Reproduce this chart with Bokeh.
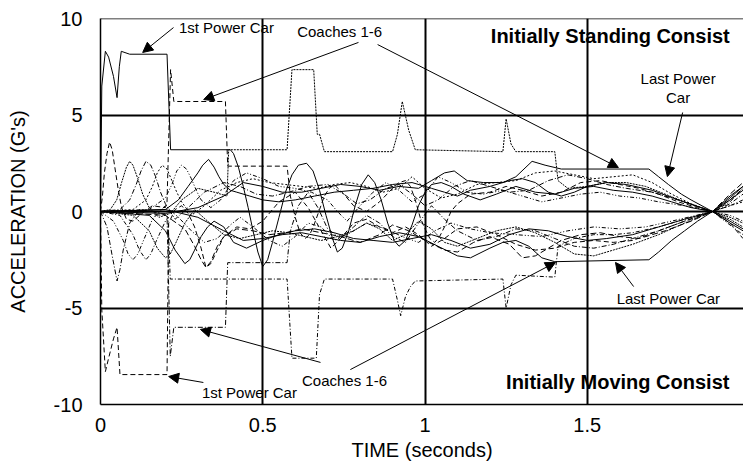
from bokeh.plotting import figure
from bokeh.models import Range1d, FixedTicker, Span, Arrow, NormalHead, Label
from bokeh.embed import file_html
from bokeh.resources import INLINE

# ---------------- data (time s, acceleration G) ----------------
# Initially standing consist
std_pc1_t = [0, 0.004, 0.015, 0.025, 0.04, 0.051, 0.058, 0.064, 0.09, 0.205, 0.216, 0.40, 0.41, 0.425, 0.44, 0.455, 0.47, 0.485, 0.50, 0.515, 0.53, 0.55, 0.57, 0.59, 0.61, 0.635, 0.655, 0.675, 0.695, 0.715, 0.73, 0.745, 0.765, 0.785, 0.805, 0.825, 0.845, 0.865, 0.885, 0.905, 0.92, 0.94, 0.96, 0.98, 1.0, 1.02, 1.05, 1.08, 1.12, 1.17, 1.22, 1.28, 1.34, 1.40, 1.46, 1.52, 1.58, 1.64, 1.70, 1.76, 1.82, 1.886, 1.93, 1.98]
std_pc1_g = [0, 6.5, 8.3, 8.0, 7.0, 5.9, 7.5, 8.3, 8.15, 8.15, 3.2, 3.2, 3.0, 2.3, 1.3, 0.2, -1.0, -2.1, -2.85, -2.5, -1.6, -0.3, 1.0, 1.9, 2.4, 2.5, 2.1, 1.1, -0.2, -1.4, -2.1, -1.9, -1.0, 0.3, 1.4, 1.9, 1.5, 0.6, -0.6, -1.5, -1.8, -1.5, -0.7, 0.3, 1.0, 1.4, 1.5, 1.3, 0.9, 0.6, 0.9, 1.3, 1.0, 0.9, 1.2, 1.3, 1.1, 1.0, 0.8, 0.5, 0.2, 0.0, -0.4, -0.9]

std_c1_t = [0, 0.006, 0.012, 0.02, 0.028, 0.036, 0.045, 0.055, 0.065, 0.08, 0.1, 0.12, 0.16, 0.2, 0.205, 0.216, 0.226, 0.385, 0.392, 0.575, 0.585, 0.6, 0.615, 0.63, 0.645, 0.66, 0.675, 0.69, 0.705, 0.72, 0.75, 0.78, 0.82, 0.86, 0.9, 0.92, 0.94, 0.955, 0.97, 0.985, 1.0, 1.015, 1.03, 1.045, 1.06, 1.08, 1.1, 1.14, 1.2, 1.25, 1.3, 1.36, 1.42, 1.48, 1.54, 1.6, 1.66, 1.72, 1.78, 1.84, 1.886, 1.94, 1.98]
std_c1_g = [0, 0.8, 2.0, 3.0, 3.6, 3.2, 2.2, 1.1, 0.2, -0.4, -0.5, -0.2, 0.3, 0.2, 0.5, 7.35, 5.7, 5.7, 2.35, 2.35, 0.8, -0.3, -1.1, -1.4, -1.2, -0.6, 0.1, 0.8, 1.2, 1.4, 0.9, 0.3, 0.0, 0.5, 1.2, 1.5, 1.6, 1.3, 0.6, -0.3, -0.9, -1.4, -1.6, -1.3, -0.8, 0.0, 0.4, 0.9, 1.0, 1.3, 1.1, 0.8, 1.0, 1.5, 1.6, 1.4, 1.2, 0.9, 0.5, 0.2, 0.0, -0.6, -1.4]

std_c2_t = [0, 0.03, 0.05, 0.065, 0.08, 0.09, 0.1, 0.115, 0.13, 0.15, 0.18, 0.215, 0.25, 0.3, 0.35, 0.39, 0.395, 0.575, 0.59, 0.657, 0.668, 0.675, 0.69, 0.90, 0.915, 0.93, 0.95, 0.97, 1.24, 1.25, 1.265, 1.28, 1.40, 1.41, 1.44, 1.5, 1.56, 1.62, 1.68, 1.74, 1.80, 1.886, 1.94, 1.98]
std_c2_g = [0, 0.1, 0.6, 1.5, 2.3, 2.6, 2.4, 1.7, 0.9, 0.2, -0.3, -0.1, 0.6, 1.2, 1.0, 0.8, 3.2, 3.2, 7.35, 7.35, 4.0, 4.0, 3.1, 3.1, 4.0, 5.7, 4.2, 3.2, 3.1, 4.8, 3.5, 3.1, 3.1, 1.6, 1.2, 1.3, 1.5, 1.5, 1.3, 0.9, 0.5, 0.0, -0.3, -0.6]

std_c3_t = [0, 0.06, 0.09, 0.11, 0.125, 0.14, 0.155, 0.17, 0.185, 0.2, 0.23, 0.27, 0.32, 0.38, 0.43, 0.48, 0.53, 0.58, 0.64, 0.70, 0.75, 0.79, 0.83, 0.88, 0.92, 0.96, 1.0, 1.04, 1.09, 1.14, 1.2, 1.26, 1.32, 1.38, 1.44, 1.5, 1.56, 1.62, 1.7, 1.78, 1.886, 1.94, 1.98]
std_c3_g = [0, 0.1, 0.6, 1.4, 2.1, 2.6, 2.4, 1.8, 1.0, 0.4, -0.4, 0.2, 1.0, 1.5, 1.3, 0.9, 0.8, 1.0, 1.3, 1.4, 0.9, 0.4, 0.6, 1.2, 1.4, 0.9, 0.3, 0.6, 1.3, 1.6, 1.3, 1.0, 1.1, 1.6, 1.9, 1.7, 1.4, 1.2, 1.0, 0.6, 0.0, 0.5, 1.2]

std_c4_t = [0, 0.1, 0.14, 0.16, 0.175, 0.19, 0.205, 0.22, 0.235, 0.25, 0.28, 0.32, 0.37, 0.42, 0.47, 0.52, 0.57, 0.62, 0.67, 0.72, 0.77, 0.82, 0.87, 0.92, 0.96, 1.0, 1.05, 1.1, 1.16, 1.22, 1.28, 1.34, 1.4, 1.46, 1.52, 1.58, 1.64, 1.7, 1.76, 1.82, 1.886, 1.94, 1.98]
std_c4_g = [0, 0.1, 0.6, 1.3, 2.0, 2.4, 2.2, 1.6, 1.0, 0.5, -0.2, 0.3, 1.1, 1.5, 1.7, 1.5, 1.4, 1.3, 1.2, 1.4, 1.5, 1.3, 1.0, 1.2, 1.8, 1.2, 0.7, 0.9, 1.4, 1.5, 1.6, 2.0, 2.1, 1.9, 1.7, 1.8, 1.9, 1.5, 0.9, 0.4, 0.0, 0.3, 0.5]

std_c5_t = [0, 0.15, 0.2, 0.22, 0.235, 0.25, 0.265, 0.28, 0.295, 0.31, 0.34, 0.37, 0.41, 0.45, 0.5, 0.55, 0.6, 0.65, 0.7, 0.73, 0.76, 0.8, 0.84, 0.88, 0.92, 0.96, 1.0, 1.04, 1.08, 1.13, 1.18, 1.24, 1.3, 1.36, 1.42, 1.48, 1.54, 1.6, 1.66, 1.72, 1.8, 1.886, 1.94, 1.98]
std_c5_g = [0, 0.1, 0.7, 1.4, 2.1, 2.4, 2.2, 1.7, 1.1, 0.6, 0.2, 0.6, 1.6, 2.0, 1.7, 1.3, 1.2, 1.0, 0.6, 0.0, -0.5, 0.3, 1.0, 1.5, 1.1, 0.5, 0.9, 1.8, 1.5, 1.0, 0.9, 1.1, 0.8, 0.5, 0.7, 0.9, 1.0, 0.8, 0.7, 0.5, 0.3, 0.0, -0.2, -0.5]

std_c6_t = [0, 0.2, 0.24, 0.27, 0.3, 0.315, 0.333, 0.35, 0.365, 0.38, 0.4, 0.42, 0.46, 0.5, 0.55, 0.6, 0.66, 0.72, 0.78, 0.84, 0.9, 0.96, 1.02, 1.06, 1.1, 1.14, 1.2, 1.26, 1.3, 1.34, 1.38, 1.42, 1.46, 1.5, 1.56, 1.62, 1.7, 1.78, 1.886, 1.94, 1.98]
std_c6_g = [0, 0.1, 0.6, 1.3, 2.0, 2.4, 2.7, 2.3, 1.8, 1.4, 1.1, 1.0, 0.8, 0.6, 0.5, 0.6, 0.8, 1.0, 1.1, 1.2, 1.4, 1.5, 1.2, 1.0, 0.8, 1.1, 1.3, 1.6, 1.7, 1.5, 1.0, 0.8, 1.0, 1.3, 1.5, 1.4, 1.1, 0.6, 0.0, 0.7, 1.3]

std_pc2_t = [0, 0.1, 0.2, 0.3, 0.38, 0.44, 0.5, 0.56, 0.62, 0.68, 0.74, 0.8, 0.86, 0.92, 0.98, 1.02, 1.06, 1.09, 1.13, 1.18, 1.24, 1.28, 1.33, 1.37, 1.42, 1.69, 1.72, 1.75, 1.79, 1.82, 1.886, 1.94, 1.98]
std_pc2_g = [0, -0.05, -0.1, 0.2, 0.8, 1.5, 1.3, 1.0, 1.0, 1.2, 1.4, 1.3, 1.1, 1.3, 1.2, 1.6, 2.0, 2.1, 1.6, 1.5, 1.5, 1.8, 2.6, 2.4, 2.2, 2.2, 1.8, 1.4, 0.9, 0.6, 0.0, -0.6, -1.0]

# Initially moving consist
mov_pc1_t = [0, 0.004, 0.015, 0.025, 0.04, 0.051, 0.06, 0.205, 0.21, 0.23, 0.25, 0.27, 0.29, 0.31, 0.325, 0.34, 0.36, 0.38, 0.42, 0.46, 0.5, 0.55, 0.6, 0.64, 0.68, 0.71, 0.74, 0.78, 0.82, 0.86, 0.9, 0.94, 0.98, 1.02, 1.06, 1.1, 1.16, 1.22, 1.28, 1.34, 1.4, 1.46, 1.52, 1.58, 1.64, 1.72, 1.8, 1.886, 1.94, 1.98]
mov_pc1_g = [0, -5.1, -8.3, -7.6, -6.6, -6.0, -8.45, -8.45, -0.6, 0.1, 0.3, -0.1, -0.8, -1.9, -2.9, -2.7, -2.0, -1.3, -0.8, -0.9, -0.5, 0.5, 1.0, 0.2, -1.0, -1.9, -1.4, -0.6, -0.4, -0.8, -1.1, -0.8, -1.2, -1.8, -1.4, -0.9, -0.8, -1.2, -1.7, -2.0, -1.9, -1.6, -1.5, -1.6, -1.5, -1.0, -0.5, 0.0, 0.6, 1.2]

mov_c1_t = [0, 0.02, 0.035, 0.051, 0.06, 0.07, 0.09, 0.12, 0.16, 0.205, 0.215, 0.226, 0.385, 0.392, 0.575, 0.585, 0.61, 0.64, 0.67, 0.70, 0.74, 0.78, 0.82, 0.86, 0.9, 0.94, 0.98, 1.02, 1.06, 1.1, 1.16, 1.22, 1.28, 1.34, 1.40, 1.46, 1.52, 1.58, 1.64, 1.72, 1.8, 1.886, 1.94, 1.98]
mov_c1_g = [0, -0.8, -2.2, -3.6, -3.0, -2.0, -0.6, 0.1, 0.0, -0.2, -7.5, -6.0, -6.0, -2.65, -2.65, -1.0, 0.3, 1.0, 0.2, -0.9, -1.4, -0.8, -0.2, -0.6, -1.3, -1.6, -0.6, 0.3, -0.4, -1.0, -1.5, -1.3, -0.9, -1.0, -1.4, -1.8, -1.9, -1.7, -1.4, -1.0, -0.5, 0.0, 0.4, 0.9]

mov_c2_t = [0, 0.06, 0.1, 0.12, 0.14, 0.155, 0.17, 0.2, 0.208, 0.215, 0.575, 0.59, 0.665, 0.675, 0.69, 0.90, 0.915, 0.925, 0.94, 0.955, 0.97, 1.24, 1.25, 1.265, 1.28, 1.40, 1.41, 1.46, 1.52, 1.58, 1.64, 1.72, 1.8, 1.886, 1.94, 1.98]
mov_c2_g = [0, -0.2, -1.2, -2.0, -2.5, -2.2, -1.6, -0.5, -0.3, -3.5, -3.5, -7.6, -7.6, -4.3, -3.5, -3.5, -4.6, -5.4, -4.4, -3.9, -3.6, -3.5, -5.0, -3.8, -3.3, -3.4, -1.8, -1.4, -1.2, -1.2, -1.1, -0.8, -0.4, 0.0, 0.3, 0.6]

mov_c3_t = [0, 0.1, 0.15, 0.175, 0.2, 0.215, 0.23, 0.26, 0.29, 0.33, 0.38, 0.43, 0.48, 0.53, 0.58, 0.63, 0.68, 0.73, 0.78, 0.82, 0.86, 0.9, 0.94, 0.98, 1.02, 1.06, 1.1, 1.16, 1.22, 1.28, 1.34, 1.4, 1.46, 1.52, 1.58, 1.64, 1.72, 1.8, 1.886, 1.94, 1.98]
mov_c3_g = [0, -0.2, -1.0, -1.9, -2.4, -2.2, -1.7, -0.6, 0.1, -0.5, -1.2, -1.4, -1.2, -1.0, -1.1, -1.3, -1.5, -1.3, -1.0, -0.6, -0.9, -1.5, -1.2, -0.5, -0.9, -1.6, -1.8, -1.4, -1.0, -0.8, -1.1, -1.6, -2.2, -2.3, -2.0, -1.7, -1.2, -0.6, 0.0, -0.4, -0.8]

mov_c4_t = [0, 0.15, 0.2, 0.23, 0.26, 0.275, 0.29, 0.31, 0.33, 0.35, 0.38, 0.41, 0.45, 0.5, 0.55, 0.6, 0.66, 0.72, 0.78, 0.84, 0.9, 0.96, 1.02, 1.08, 1.14, 1.2, 1.26, 1.32, 1.38, 1.44, 1.5, 1.56, 1.64, 1.72, 1.8, 1.886, 1.94, 1.98]
mov_c4_g = [0, -0.2, -1.0, -2.0, -2.7, -2.5, -2.0, -1.3, -0.8, -0.5, -0.8, -1.6, -1.9, -1.5, -1.2, -1.0, -0.9, -1.1, -1.4, -1.5, -1.6, -1.4, -1.2, -1.5, -1.9, -1.7, -1.2, -0.9, -1.0, -1.3, -1.5, -1.4, -1.2, -0.8, -0.4, 0.0, 0.6, 1.1]

mov_c5_t = [0, 0.2, 0.26, 0.29, 0.31, 0.325, 0.34, 0.36, 0.38, 0.42, 0.47, 0.52, 0.57, 0.62, 0.68, 0.74, 0.80, 0.86, 0.9, 0.95, 1.0, 1.06, 1.1, 1.15, 1.2, 1.26, 1.3, 1.34, 1.38, 1.42, 1.48, 1.54, 1.6, 1.66, 1.74, 1.82, 1.886, 1.94, 1.98]
mov_c5_g = [0, -0.2, -0.9, -1.8, -2.5, -2.9, -2.6, -1.8, -1.3, -0.9, -1.0, -1.2, -1.1, -0.9, -1.1, -1.3, -1.6, -1.2, -0.7, -1.0, -1.5, -2.0, -2.1, -1.6, -1.3, -1.7, -2.4, -2.3, -1.9, -1.5, -1.2, -1.1, -1.3, -1.4, -1.0, -0.5, 0.0, 0.9, 1.5]

mov_c6_t = [0, 0.04, 0.07, 0.085, 0.1, 0.115, 0.13, 0.16, 0.2, 0.24, 0.28, 0.32, 0.36, 0.4, 0.43, 0.47, 0.52, 0.56, 0.6, 0.64, 0.68, 0.72, 0.77, 0.82, 0.88, 0.93, 0.98, 1.03, 1.08, 1.14, 1.2, 1.28, 1.36, 1.44, 1.52, 1.6, 1.68, 1.76, 1.886, 1.94, 1.98]
mov_c6_g = [0, -0.5, -1.5, -2.2, -2.5, -2.2, -1.6, -0.4, 0.3, -0.3, -1.0, -1.6, -1.4, -0.7, -0.3, -0.8, -1.5, -1.8, -1.3, -0.6, -0.8, -1.5, -1.1, -0.6, -0.9, -1.3, -1.6, -1.0, -0.6, -0.9, -1.1, -1.2, -1.3, -1.0, -0.8, -0.9, -0.8, -0.5, 0.0, -0.7, -1.2]

mov_pc2_t = [0, 0.1, 0.2, 0.3, 0.38, 0.44, 0.5, 0.56, 0.62, 0.68, 0.74, 0.8, 0.86, 0.92, 0.98, 1.04, 1.1, 1.14, 1.2, 1.24, 1.28, 1.32, 1.36, 1.4, 1.69, 1.72, 1.76, 1.8, 1.84, 1.886, 1.94, 1.98]
mov_pc2_g = [0, 0.05, 0.1, -0.3, -1.0, -1.5, -1.4, -1.2, -1.1, -1.3, -1.5, -1.6, -1.3, -1.1, -1.3, -1.8, -2.3, -2.4, -1.9, -1.6, -1.5, -1.8, -2.4, -2.6, -2.5, -2.1, -1.5, -1.0, -0.5, 0.0, 0.8, 1.3]

x_ticks = [0, 0.5, 1, 1.5]
x_tick_labels = ["0", "0.5", "1", "1.5"]
y_ticks = [-10, -5, 0, 5, 10]
y_tick_labels = ["-10", "-5", "0", "5", "10"]

# ---------------- figure ----------------
FONT = "Liberation Sans"
p = figure(width=743, height=470, output_backend="svg", toolbar_location=None,
           x_range=Range1d(0, 643 / 324.5), y_range=Range1d(-10, 10),
           min_border_left=100, min_border_right=0, min_border_top=18, min_border_bottom=66)
p.outline_line_color = None
p.background_fill_color = "white"
p.border_fill_color = "white"

for ax in (p.xaxis[0], p.yaxis[0]):
    ax.axis_line_width = 1.5
    ax.axis_line_color = "black"
    ax.major_tick_line_color = None
    ax.minor_tick_line_color = None
    ax.major_label_text_font = FONT
    ax.major_label_text_font_size = "20px"
    ax.major_label_text_color = "black"
    ax.axis_label_text_font = FONT
    ax.axis_label_text_font_size = "20px"
    ax.axis_label_text_font_style = "normal"
    ax.axis_label_text_color = "black"

p.xaxis.ticker = FixedTicker(ticks=x_ticks)
p.xaxis.major_label_overrides = dict(zip(x_ticks, x_tick_labels))
p.yaxis.ticker = FixedTicker(ticks=y_ticks)
p.yaxis.major_label_overrides = dict(zip(y_ticks, y_tick_labels))
p.xaxis.axis_label = "TIME (seconds)"
p.yaxis.axis_label = "ACCELERATION (G's)"
p.xaxis.major_label_standoff = 7
p.yaxis.major_label_standoff = 12
p.xaxis.axis_label_standoff = 4
p.yaxis.axis_label_standoff = 22

p.xgrid.ticker = FixedTicker(ticks=[0.5, 1, 1.5])
p.ygrid.ticker = FixedTicker(ticks=[-5, 0, 5])
for g in (p.xgrid[0], p.ygrid[0]):
    g.grid_line_color = "black"
    g.grid_line_width = 2

p.add_layout(Span(location=10, dimension="width", line_color="black", line_width=1.5))

# ---------------- curves ----------------
curves = [
    (std_pc1_t, std_pc1_g, "solid"),
    (std_c1_t, std_c1_g, "5 3"),
    (std_c2_t, std_c2_g, "2 1"),
    (std_c3_t, std_c3_g, "5 2 1 2"),
    (std_c4_t, std_c4_g, "2 2"),
    (std_c5_t, std_c5_g, "4 2 1 2 1 2"),
    (std_c6_t, std_c6_g, "solid"),
    (std_pc2_t, std_pc2_g, "solid"),
    (mov_pc1_t, mov_pc1_g, "5 3"),
    (mov_c1_t, mov_c1_g, "5 2 1 2"),
    (mov_c2_t, mov_c2_g, "4 2 1 2"),
    (mov_c3_t, mov_c3_g, "2 1"),
    (mov_c4_t, mov_c4_g, "solid"),
    (mov_c5_t, mov_c5_g, "6 3"),
    (mov_c6_t, mov_c6_g, "4 2 1 2 1 2"),
    (mov_pc2_t, mov_pc2_g, "solid"),
]
for t, g, dash in curves:
    p.line(t, g, line_color="black", line_width=1, line_dash=dash)

# ---------------- annotations ----------------
def label(x, y, text, size="15px", style="normal"):
    p.add_layout(Label(x=x, y=y, text=text, text_font=FONT, text_font_size=size,
                       text_font_style=style, text_align="center", text_baseline="middle",
                       text_color="black"))

def arrow(x0, y0, x1, y1):
    p.add_layout(Arrow(end=NormalHead(size=10, fill_color="black", line_color="black"),
                       x_start=x0, y_start=y0, x_end=x1, y_end=y1,
                       line_color="black", line_width=1))

label(0.388, 9.53, "1st Power Car")
arrow(0.225, 9.53, 0.13, 8.24)
label(0.737, 9.33, "Coaches 1-6")
arrow(0.795, 8.76, 0.318, 5.8)
arrow(0.854, 8.65, 1.596, 2.28)
label(1.571, 9.07, "Initially Standing Consist", size="20px", style="bold")
label(1.78, 6.9, "Last Power")
label(1.78, 5.9, "Car")
arrow(1.794, 5.13, 1.747, 1.81)

label(0.459, -9.38, "1st Power Car")
arrow(0.317, -8.86, 0.21, -8.55)
label(0.752, -8.76, "Coaches 1-6")
arrow(0.678, -7.82, 0.308, -6.11)
arrow(0.77, -8.19, 1.402, -2.64)
label(1.75, -4.5, "Last Power Car")
arrow(1.643, -3.89, 1.587, -2.64)
label(1.594, -8.86, "Initially Moving Consist", size="20px", style="bold")

open("out.html", "w").write(file_html(p, INLINE))
